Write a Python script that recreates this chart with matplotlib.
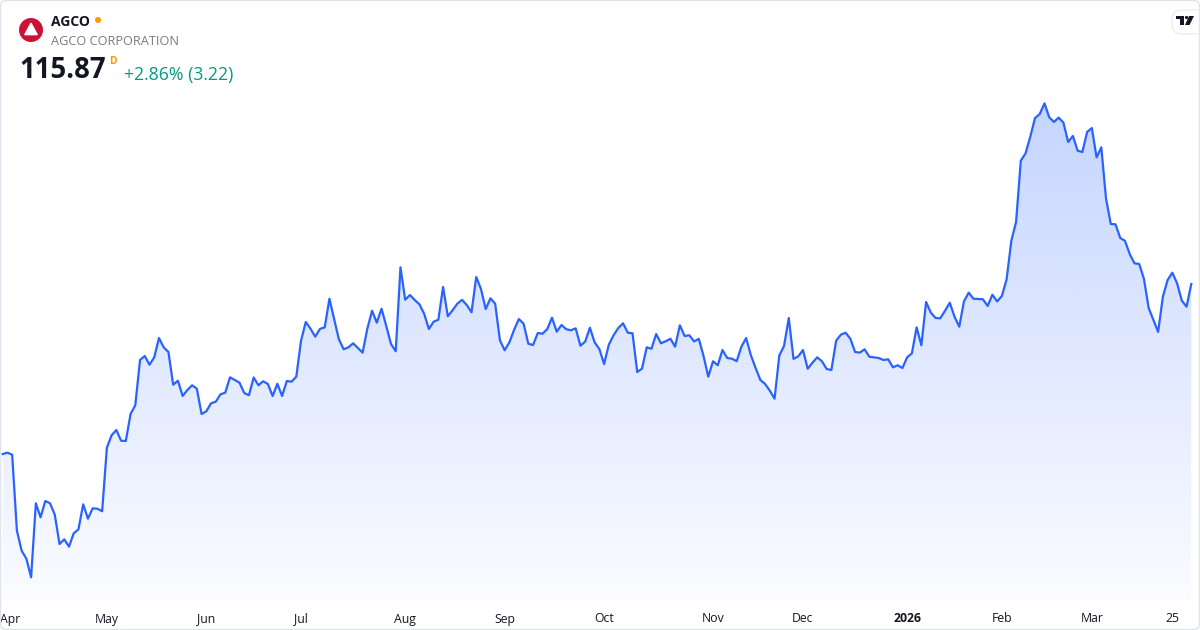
import numpy as np
import pandas as pd
import matplotlib
matplotlib.use('Agg')
import matplotlib.pyplot as plt
from matplotlib.patches import Circle, FancyBboxPatch, Polygon, Rectangle
from matplotlib.transforms import Affine2D, ScaledTranslation

plt.rcParams['font.family'] = ['Open Sans', 'DejaVu Sans']

symbol = 'AGCO'
company = 'AGCO CORPORATION'
last_price = 115.87
change_abs = 3.22
change_pct = 2.86

# NYSE holidays inside the window
holidays = ['2025-04-18', '2025-05-26', '2025-06-19', '2025-07-04', '2025-09-01',
            '2025-11-27', '2025-12-25', '2026-01-01', '2026-01-19', '2026-02-16']

# daily closes
close = [
    91.73, 91.92, 91.63, 80.84, 78.00, 76.86, 74.22, 84.73, 82.74, 85.06,
    84.73, 83.11, 78.95, 79.62, 78.57, 80.47, 81.04, 84.59, 82.54, 84.02,
    83.96, 83.60, 92.63, 94.39, 95.14, 93.62, 93.58, 97.41, 98.65, 105.08,
    105.65, 104.41, 105.46, 108.20, 106.88, 106.22, 101.57, 102.14, 99.97, 100.82,
    101.49, 101.00,
    97.41, 97.80, 98.93, 99.16, 100.21, 100.44, 102.62, 102.24, 101.86, 100.40,
    100.07, 102.60, 101.49, 102.06, 101.67, 99.96, 101.70, 99.97, 102.10, 102.00,
    102.71, 107.82, 110.48, 109.52, 108.39, 109.50, 109.72, 113.78, 110.86, 108.02,
    106.60, 106.88, 107.45, 106.78, 106.12, 109.52, 112.08, 110.38, 112.36, 109.91,
    107.35, 106.32, 118.24,
    113.64, 114.31, 113.60, 112.99, 111.65, 109.48, 110.52, 110.80, 115.45, 111.29,
    112.14, 113.07, 113.62, 112.89, 111.85, 116.87, 115.16, 112.32, 113.84, 113.07,
    107.88, 106.46, 107.59, 109.38, 110.90, 110.23, 107.39, 107.21, 108.91, 108.81,
    109.48, 111.09, 109.10, 110.05, 109.45, 109.30, 109.58, 107.11, 107.68, 109.67,
    107.59, 106.64,
    104.51, 107.25, 108.59, 109.62, 110.29, 108.96, 108.87, 103.38, 103.84, 106.88,
    106.68, 108.77, 107.45, 107.74, 108.10, 106.97, 110.01, 108.49, 108.59, 107.72,
    108.08, 105.65, 102.71, 104.90, 104.33, 106.50, 105.36, 105.26, 104.92, 106.97,
    108.20, 105.75, 103.94, 102.24, 101.67, 100.72, 99.58, 105.72, 107.07, 111.04,
    105.24, 105.60,
    106.50, 103.84, 104.70, 105.46, 104.90, 103.80, 103.66, 107.82, 108.67, 108.96,
    108.10, 106.22, 106.12, 106.60, 105.55, 105.45, 105.36, 105.08, 105.18, 104.04,
    104.33, 103.94, 105.46, 106.03, 109.72, 107.17, 113.32, 111.80, 111.04, 111.00,
    112.08, 113.22, 111.23, 109.81, 113.42, 114.64, 113.78, 113.75, 113.70, 112.75,
    114.35, 113.40, 114.17,
    116.54, 122.02, 124.68, 133.38, 134.43, 136.79, 139.44, 140.01, 141.53, 139.54,
    138.88, 139.50, 138.78, 136.04, 136.89, 134.80, 134.62, 137.46, 138.02, 133.86,
    135.28, 127.98, 124.39, 124.35, 122.40, 122.00, 120.13, 118.81, 118.71, 116.62,
    112.46, 110.76, 109.06, 114.07, 116.44, 117.48, 115.97, 113.50, 112.65, 115.87,
]

dates = pd.bdate_range('2025-03-31', periods=len(close), freq='C', holidays=holidays)
x = np.arange(len(close))

LINE = '#2962ff'
TEXT = '#131722'

fig = plt.figure(figsize=(12, 6.3), dpi=100)
fig.patch.set_facecolor('white')
ax = fig.add_axes([0, 30 / 630, 1, 600 / 630])
ax.set_facecolor('none')

ylo, yhi = 71.0, 156.2
xlo, xhi = -0.57, 252.84

# gradient under the line
ny = 256
grad = np.zeros((ny, 1, 4))
grad[..., 0] = 41 / 255
grad[..., 1] = 98 / 255
grad[..., 2] = 1.0
grad[:, 0, 3] = np.linspace(0.02, 0.32, ny)
area = ax.fill_between(x, close, ylo, facecolor='none', edgecolor='none')
img = ax.imshow(grad, extent=[xlo, xhi, ylo, yhi], origin='lower', aspect='auto',
                interpolation='bilinear', zorder=1)
img.set_clip_path(area.get_paths()[0], transform=ax.transData)

ax.plot(x, close, color=LINE, lw=1.6, zorder=3, solid_joinstyle='round')

ax.set_xlim(xlo, xhi)
ax.set_ylim(ylo, yhi)
for s in ax.spines.values():
    s.set_visible(False)
ax.set_yticks([])

# month ticks at the first session of each month, plus the 25th of the last month
ticks, labels = [], []
for i in range(1, len(dates)):
    if dates[i].month != dates[i - 1].month:
        ticks.append(i)
        labels.append(str(dates[i].year) if dates[i].month == 1 else dates[i].strftime('%b'))
last25 = int(np.where(dates == pd.Timestamp('2026-03-25'))[0][0])
ticks.append(last25)
labels.append('25')
ax.set_xticks(ticks)
ax.set_xticklabels(labels)
ax.tick_params(axis='x', length=0, pad=9, labelsize=8.8, labelcolor=TEXT)
tl = ax.get_xticklabels()
for lab in tl:
    if lab.get_text() == '2026':
        lab.set_fontweight('bold')
tl[0].set_horizontalalignment('left')
tl[0].set_transform(tl[0].get_transform() + ScaledTranslation(-7 / 100, 0, fig.dpi_scale_trans))

# header, in pixel coords from the top-left
P = Affine2D().scale(1 / 1200, -1 / 630).translate(0, 1) + fig.transFigure

fig.add_artist(Circle((31, 30), 12, transform=P, facecolor='#cc1236', edgecolor='none'))
fig.add_artist(Polygon([(31, 23.5), (37, 34.5), (25, 34.5)], closed=True, transform=P,
                       facecolor='white', edgecolor='white', lw=1.2, joinstyle='round'))
fig.text(51, 21.5, symbol, transform=P, ha='left', va='center', fontsize=10,
         fontweight='bold', color=TEXT)
fig.add_artist(Circle((98, 20), 3, transform=P, facecolor='#ff9800', edgecolor='none'))
fig.text(51, 41.5, company, transform=P, ha='left', va='center', fontsize=9.2, color='#787b86')
fig.text(19, 71, f'{last_price:.2f}', transform=P, ha='left', va='center', fontsize=19.8,
         fontweight='bold', color=TEXT)
fig.text(109, 61, 'D', transform=P, ha='left', va='center', fontsize=7.5,
         fontweight='bold', color='#ff9800')
fig.text(124, 75, f'+{change_pct:.2f}% ({change_abs:.2f})', transform=P, ha='left',
         va='center', fontsize=12.7, color='#089981')

# TradingView badge at top right
fig.add_artist(FancyBboxPatch((1172, 10), 40, 24, boxstyle='round,pad=0,rounding_size=10',
                              transform=P, facecolor='white', edgecolor='#e6e8ee', lw=0.8))
fig.add_artist(Rectangle((1176, 16), 8, 3, transform=P, facecolor=TEXT, edgecolor='none'))
fig.add_artist(Rectangle((1180, 16), 4, 9, transform=P, facecolor=TEXT, edgecolor='none'))
fig.add_artist(Circle((1186.5, 17.5), 1.6, transform=P, facecolor=TEXT, edgecolor='none'))
fig.add_artist(Polygon([(1189, 16), (1194, 16), (1189.5, 25), (1185, 25)], closed=True,
                       transform=P, facecolor=TEXT, edgecolor='none'))

# outer frame
fig.add_artist(FancyBboxPatch((0.5, 0.5), 1199, 629, boxstyle='round,pad=0,rounding_size=6',
                              transform=P, facecolor='none', edgecolor='#e0e3eb', lw=1))

fig.savefig('out.png', dpi=100, facecolor='white')
